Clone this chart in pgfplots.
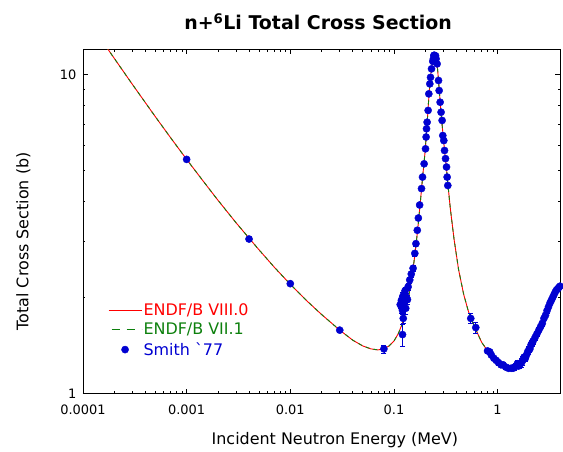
\documentclass[border=0pt]{standalone}
\usepackage{pgfplots}
\usepackage{pgfplotstable}
\pgfplotsset{compat=1.18}
\usepackage{fontspec}
\setmainfont{DejaVu Sans}
\definecolor{cred}{rgb}{1,0,0}
\definecolor{cgreen}{rgb}{0.05,0.5,0.05}
\definecolor{cblue}{rgb}{0,0,0.82}

\pgfplotstableread{
x y
1.5e-4 12.87
2e-4 11.25
3e-4 9.31
5e-4 7.37
7e-4 6.34
1e-3 5.42
1.5e-3 4.56
2e-3 4.04
3e-3 3.43
4e-3 3.07
5e-3 2.82
7e-3 2.49
0.01 2.20
0.015 1.93
0.02 1.77
0.03 1.58
0.04 1.47
0.05 1.41
0.06 1.38
0.07 1.37
0.08 1.38
0.09 1.41
0.1 1.46
0.11 1.54
0.12 1.65
0.13 1.82
0.14 2.05
0.15 2.35
0.16 2.75
0.17 3.30
0.18 4.00
0.19 4.85
0.20 5.75
0.205 6.45
0.21 7.20
0.215 8.10
0.22 9.00
0.225 9.75
0.23 10.40
0.235 10.95
0.24 11.30
0.245 11.50
0.25 11.50
0.255 11.25
0.26 10.85
0.265 10.20
0.27 9.45
0.275 8.75
0.28 8.10
0.29 7.10
0.30 6.30
0.31 5.65
0.32 5.15
0.33 4.60
0.35 3.80
0.38 3.05
0.42 2.45
0.47 2.05
0.52 1.82
0.55 1.73
0.62 1.58
0.7 1.45
0.8 1.36
0.9 1.29
1.0 1.25
1.2 1.21
1.4 1.20
1.6 1.22
1.8 1.28
2.0 1.35
2.3 1.47
2.6 1.61
3.0 1.81
3.5 2.02
4.0 2.17
}\endf

\pgfplotstableread{
x y e
0.001 5.42 0.03
0.004 3.05 0.02
0.01 2.21 0.02
0.03 1.58 0.02
0.08 1.38 0.04
0.121 1.53 0.12
0.123 1.72 0.06
0.121 1.82 0.05
0.118 1.96 0.06
0.115 1.90 0.05
0.119 1.86 0.07
0.125 1.92 0.08
0.13 1.85 0.08
0.128 2.10 0.06
0.132 2.00 0.07
0.127 2.06 0.05
0.135 1.97 0.06
0.122 2.02 0.06
0.137 2.16 0.05
0.142 2.27 0.05
0.147 2.37 0.05
0.153 2.47 0.05
0.159 2.75 0.05
0.163 2.95 0.05
0.168 3.25 0.05
0.172 3.55 0.05
0.177 3.90 0.05
0.1845 4.39 0.06
0.1887 4.77 0.06
0.1955 5.25 0.06
0.2017 5.85 0.07
0.2044 6.37 0.07
0.2062 6.76 0.07
0.209 7.09 0.08
0.2137 7.72 0.08
0.217 8.70 0.08
0.2219 9.35 0.09
0.2254 9.80 0.09
0.2305 10.42 0.1
0.237 11.00 0.1
0.24 11.20 0.1
0.2425 11.47 0.1
0.245 11.50 0.1
0.248 11.05 0.1
0.25 11.40 0.1
0.252 11.45 0.1
0.255 11.20 0.1
0.261 10.80 0.1
0.2692 9.58 0.09
0.2729 8.91 0.09
0.279 8.19 0.08
0.285 7.62 0.08
0.2916 7.18 0.07
0.296 6.44 0.07
0.3028 6.21 0.07
0.3076 5.78 0.06
0.3145 5.45 0.06
0.3216 5.13 0.06
0.326 4.77 0.06
0.331 4.49 0.05
0.551 1.72 0.06
0.616 1.61 0.06
0.80 1.36 0.02
0.84 1.35 0.02
0.87 1.32 0.02
0.92 1.29 0.02
0.97 1.27 0.02
1.02 1.25 0.02
1.08 1.23 0.02
1.13 1.23 0.02
1.2 1.21 0.02
1.27 1.20 0.02
1.35 1.20 0.02
1.41 1.20 0.02
1.46 1.21 0.03
1.5 1.22 0.02
1.55 1.24 0.03
1.6 1.22 0.02
1.64 1.23 0.03
1.7 1.25 0.04
1.75 1.27 0.04
1.8 1.30 0.03
1.85 1.29 0.03
1.9 1.32 0.03
1.95 1.35 0.03
2.0 1.37 0.04
2.05 1.38 0.03
2.1 1.42 0.03
2.15 1.44 0.03
2.2 1.46 0.03
2.3 1.50 0.03
2.4 1.54 0.03
2.5 1.58 0.03
2.6 1.62 0.03
2.7 1.66 0.03
2.8 1.72 0.03
2.9 1.76 0.03
3.0 1.82 0.03
3.1 1.87 0.03
3.2 1.92 0.03
3.3 1.96 0.03
3.4 2.00 0.03
3.5 2.04 0.03
3.6 2.08 0.03
3.7 2.11 0.03
3.8 2.13 0.03
3.9 2.15 0.03
4.0 2.17 0.03
}\smith

\begin{document}
\begin{tikzpicture}
\path[use as bounding box] (-83bp,-58.5bp) rectangle (480bp,393.5bp);
\begin{axis}[
  scale only axis, width=477bp, height=344.2bp, at={(0,0)}, anchor=south west,
  xmode=log, ymode=log, xmin=1e-4, xmax=4, ymin=1, ymax=12,
  xtick={1e-4,1e-3,0.01,0.1,1}, xticklabels={0.0001,0.001,0.01,0.1,1},
  ytick={1,10}, yticklabels={1,10},
  tick align=inside, major tick length=5bp, minor tick length=2.5bp,
  axis line style={black, line width=0.8pt},
  every tick/.style={black, line width=0.6pt},
  /pgf/number format/assume math mode=true,
  tick label style={font=\fontsize{13}{13}\selectfont},
  xticklabel style={yshift=-8bp},
  yticklabel style={xshift=-3bp},
  title={\textbf{n+\textsuperscript{6}Li Total Cross Section}},
  title style={font=\fontsize{19}{19}\selectfont, at={(axis description cs:0.493,1)}, anchor=south, yshift=10bp},
  xlabel={Incident Neutron Energy (MeV)},
  ylabel={Total Cross Section (b)},
  every axis x label/.style={at={(axis description cs:0.528,-0.135)}, anchor=center, font=\fontsize{16}{16}\selectfont},
  every axis y label/.style={at={(axis description cs:-0.125,0.442)}, anchor=center, rotate=90, font=\fontsize{16}{16}\selectfont},
  legend style={at={(axis description cs:0.046,0.272)}, anchor=north west, draw=none, fill=none,
    font=\fontsize{16}{16}\selectfont, row sep=2bp, nodes={inner xsep=1.5bp}},
  legend cell align=left,
  legend image code/.code={\draw[mark repeat=2,mark phase=2,#1] plot coordinates {(0bp,0bp) (16.5bp,0bp) (33bp,0bp)};},
]
\addplot[cred, line width=0.9pt, no markers] table[x=x,y=y] {\endf};
\addlegendentry{\textcolor{cred}{ENDF/B VIII.0}}
\addplot[cgreen, line width=0.9pt, dash pattern=on 4bp off 4bp, no markers,
  legend image code/.code={\draw[cgreen, line width=0.9pt, dash pattern=on 8bp off 7bp, dash phase=-3bp] (0bp,0bp) -- (33bp,0bp);}] table[x=x,y=y] {\endf};
\addlegendentry{\textcolor{cgreen}{ENDF/B VII.1}}
\addplot[cblue, only marks, mark=*, mark size=3.6bp, mark options={fill=cblue, draw=cblue},
  error bars/.cd, y dir=both, y explicit, error bar style={cblue, line width=0.8pt}, error mark options={rotate=90, mark size=2.5bp, cblue}]
  table[x=x,y=y,y error=e] {\smith};
\addlegendentry{\textcolor{cblue}{Smith \textasciigrave 77}}
\end{axis}
\end{tikzpicture}
\end{document}
